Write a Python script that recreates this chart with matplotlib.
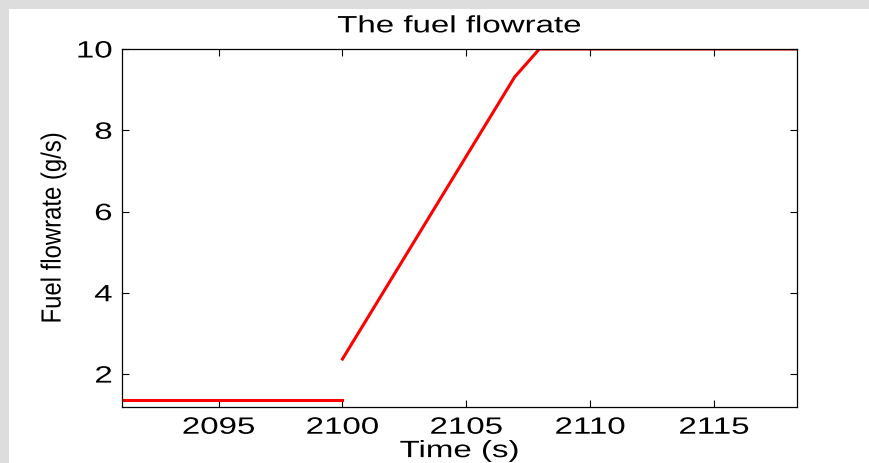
import matplotlib.pyplot as plt
from matplotlib.patches import Rectangle
from matplotlib.patheffects import AbstractPathEffect
from matplotlib.transforms import Affine2D

# fuel flowrate
t_before = [2091.1, 2100.0]
q_before = [1.36, 1.36]
t_after = [2100.0, 2106.95, 2107.95, 2118.4]
q_after = [2.37, 9.31, 10.0, 10.0]

xticks = [2095, 2100, 2105, 2110, 2115]
yticks = [2, 4, 6, 8, 10]

plt.rcParams['font.family'] = ['Liberation Sans', 'DejaVu Sans']


class Stretch(AbstractPathEffect):
    """stretch glyphs along the text direction (the original text is wide)"""
    def __init__(self, sx, anchor='center'):
        super().__init__()
        self.sx = sx
        self.anchor = anchor

    def draw_path(self, renderer, gc, tpath, affine, rgbFace=None):
        ext = tpath.get_extents()
        if self.anchor == 'right':
            cx = ext.x1
        else:
            cx = (ext.x0 + ext.x1) / 2
        a = Affine2D().translate(-cx, 0).scale(self.sx, 1).translate(cx, 0) + affine
        renderer.draw_path(gc, tpath, a, rgbFace)


fig = plt.figure(figsize=(8.7, 4.63), dpi=100)
W, H = 870, 463

# grey frame on top and left
fig.patches.append(Rectangle((0, 1 - 9 / H), 1, 9 / H, transform=fig.transFigure,
                             facecolor='#dddddd', edgecolor='none', zorder=0))
fig.patches.append(Rectangle((0, 0), 9 / W, 1, transform=fig.transFigure,
                             facecolor='#dddddd', edgecolor='none', zorder=0))

ax = fig.add_axes([122 / W, 1 - 407 / H, (797 - 122) / W, (407 - 49) / H])
ax.plot(t_before, q_before, color='red', lw=2.2)
ax.plot(t_after, q_after, color='red', lw=2.2)

ax.set_xlim(2091.1, 2118.35)
ax.set_ylim(1.19, 10)
ax.set_xticks(xticks)
ax.set_yticks(yticks)
ax.tick_params(direction='in', length=5, width=0.8, labelsize=17, top=True, right=True,
               pad=7)
for s in ax.spines.values():
    s.set_linewidth(0.9)

for lab in ax.get_xticklabels():
    lab.set_path_effects([Stretch(1.4)])
for lab in ax.get_yticklabels():
    lab.set_path_effects([Stretch(1.4, 'right')])

ax.set_title('The fuel flowrate', fontsize=17, pad=12, path_effects=[Stretch(1.4)])
ax.set_xlabel('Time (s)', fontsize=17, labelpad=1, path_effects=[Stretch(1.4)])
ax.set_ylabel('Fuel flowrate (g/s)', fontsize=20, labelpad=14,
              path_effects=[Stretch(0.86)])

fig.savefig('out.png', dpi=100)
